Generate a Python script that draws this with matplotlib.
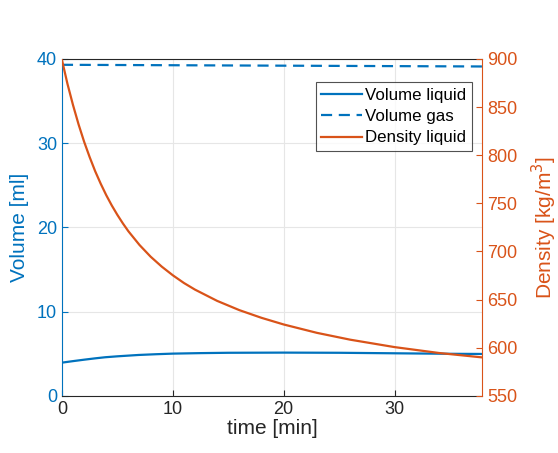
import numpy as np
import matplotlib.pyplot as plt

plt.rcParams['font.family'] = ['Liberation Sans', 'DejaVu Sans']

# Data
t_dens = [0, 0.5, 1, 1.5, 2, 2.5, 3, 3.5, 4, 4.5, 5, 5.5, 6, 7, 8, 9, 10, 11, 12,
          14, 16, 18, 20, 23, 26, 30, 34, 37.9]
density = [899, 874, 852, 832, 814, 798, 783.3, 770.3, 758.4, 747.7, 738, 729.1,
           720.9, 706.7, 694.6, 684.3, 675.3, 667.3, 660.4, 648.7, 639.1, 631.1,
           624.2, 615.5, 608.4, 600.7, 594.6, 590]

t_vol = [0, 1, 2, 3, 3.9, 5, 6.9, 8.5, 10, 12.5, 15, 20, 25, 30, 35, 37.9]
vol_liquid = [3.95, 4.13, 4.3, 4.46, 4.59, 4.7, 4.86, 4.95, 5.02, 5.08, 5.12, 5.14,
              5.12, 5.06, 5.0, 4.98]

t_gas = [0, 37.9]
vol_gas = [39.3, 39.1]

blue = '#0072BD'
orange = '#D95319'
grey = '#262626'

fig = plt.figure(figsize=(5.58, 4.53), dpi=100)
ax = fig.add_axes([0.111, 0.126, 0.753, 0.744])
ax2 = ax.twinx()

l1, = ax.plot(t_vol, vol_liquid, color=blue, lw=1.6, label='Volume liquid')
l2, = ax.plot(t_gas, vol_gas, color=blue, lw=1.6, ls=(0, (5, 3)), label='Volume gas')
l3, = ax2.plot(t_dens, density, color=orange, lw=1.6, label='Density liquid')

ax.set_xlim(0, 37.9)
ax.set_ylim(0, 40)
ax2.set_ylim(550, 900)
ax.set_xticks([0, 10, 20, 30])
ax.set_yticks([0, 10, 20, 30, 40])
ax2.set_yticks(np.arange(550, 901, 50))

ax.grid(True, color='#e6e6e6', lw=0.8)
ax.set_axisbelow(True)

ax.tick_params(axis='x', direction='in', colors=grey, labelsize=13, length=4, top=False)
ax.tick_params(axis='y', direction='in', colors=blue, labelsize=13, length=4)
ax2.tick_params(axis='y', direction='in', colors=orange, labelsize=13, length=4)

ax.spines['left'].set_color(blue)
ax.spines['right'].set_visible(False)
ax.spines['top'].set_color(grey)
ax.spines['bottom'].set_color(grey)
ax2.spines['right'].set_color(orange)
ax2.spines['left'].set_visible(False)
ax2.spines['top'].set_visible(False)
ax2.spines['bottom'].set_visible(False)
for s in ax.spines.values():
    s.set_linewidth(0.8)
ax2.spines['right'].set_linewidth(0.8)

ax.set_xlabel('time [min]', fontsize=15, color=grey, labelpad=1)
ax.set_ylabel('Volume [ml]', fontsize=15, color=blue, labelpad=6)
ax2.set_ylabel('Density [kg/m$^3$]', fontsize=15, color=orange, labelpad=9)

leg = ax2.legend(handles=[l1, l2, l3], loc='upper right', bbox_to_anchor=(0.975, 0.93),
                 fontsize=12.2, frameon=True, fancybox=False, handlelength=2.4,
                 handletextpad=0.2, borderpad=0.3, labelspacing=0.38, borderaxespad=0)
leg.get_frame().set_edgecolor(grey)
leg.get_frame().set_linewidth(0.8)

fig.savefig('out.png', dpi=100)
